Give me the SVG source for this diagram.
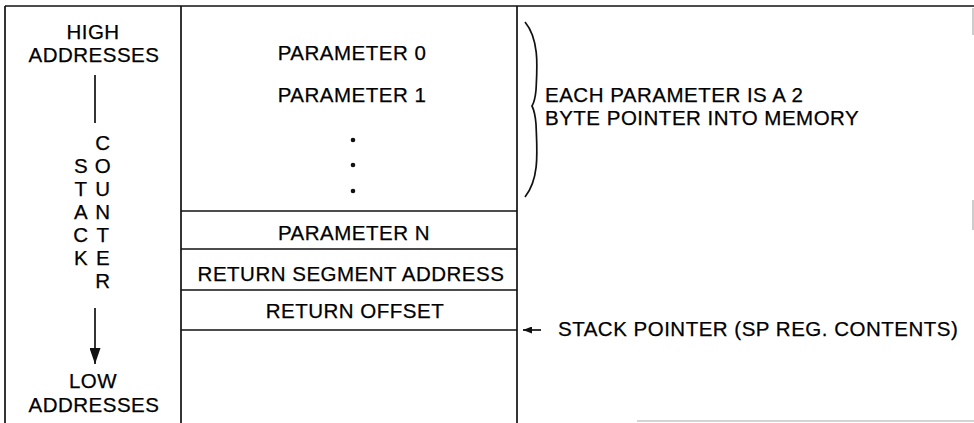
<svg xmlns="http://www.w3.org/2000/svg" width="974" height="423" viewBox="0 0 974 423">
<style>
text{font-family:"Liberation Sans",Arial,sans-serif;font-size:20.5px;letter-spacing:0.5px;fill:#000;stroke:#000;stroke-width:0.25}
.c{text-anchor:middle}
.ln{stroke:#111;stroke-width:1.7;fill:none}
.faint{stroke:#aaa;stroke-width:1.2;fill:none}
</style>
<defs>
<marker id="ah" viewBox="0 0 9 7" refX="9" refY="3.5" markerWidth="9" markerHeight="7" markerUnits="userSpaceOnUse" orient="auto"><path d="M0,0 L9,3.5 L0,7 z" fill="#111"/></marker>
<marker id="ahBig" viewBox="0 0 16 11" refX="16" refY="5.5" markerWidth="16" markerHeight="11" markerUnits="userSpaceOnUse" orient="auto"><path d="M0,0 L16,5.5 L0,11 z" fill="#111"/></marker>
</defs>
<g id="frame">
<line class="ln" x1="5" y1="6" x2="974" y2="6"/>
<line class="ln" x1="5" y1="6" x2="5" y2="423"/>
<line class="ln" x1="181" y1="6" x2="181" y2="423"/>
<line class="ln" x1="517" y1="6" x2="517" y2="423"/>
<line class="faint" x1="973" y1="8" x2="973" y2="35"/>
<line class="faint" x1="973" y1="200" x2="973" y2="230"/>
<line class="faint" x1="637" y1="421" x2="974" y2="421"/>
</g>
<g id="high-addresses">
<text class="c" x="93" y="39">HIGH</text>
<text class="c" x="94" y="62">ADDRESSES</text>
</g>
<g id="stack-counter">
<text class="c" x="103" y="150">C</text>
<text class="c" x="81" y="173">S</text><text class="c" x="103" y="173">O</text>
<text class="c" x="81" y="196">T</text><text class="c" x="103" y="196">U</text>
<text class="c" x="81" y="219">A</text><text class="c" x="103" y="219">N</text>
<text class="c" x="81" y="242">C</text><text class="c" x="103" y="242">T</text>
<text class="c" x="81" y="265">K</text><text class="c" x="103" y="265">E</text>
<text class="c" x="103" y="288">R</text>
</g>
<g id="low-addresses">
<text class="c" x="93" y="388">LOW</text>
<text class="c" x="94" y="412">ADDRESSES</text>
</g>
<g id="params-block">
<text class="c" x="352" y="60">PARAMETER 0</text>
<text class="c" x="352" y="102">PARAMETER 1</text>
<circle cx="353" cy="140" r="2.3" fill="#111"/>
<circle cx="353" cy="165" r="2.3" fill="#111"/>
<circle cx="353" cy="191" r="2.3" fill="#111"/>
</g>
<g id="cell-parameter-n">
<line class="ln" x1="181" y1="211" x2="517" y2="211"/>
<text class="c" x="354" y="240">PARAMETER N</text>
</g>
<g id="cell-return-segment">
<line class="ln" x1="181" y1="249" x2="517" y2="249"/>
<text class="c" x="351" y="281">RETURN SEGMENT ADDRESS</text>
</g>
<g id="cell-return-offset">
<line class="ln" x1="181" y1="290" x2="517" y2="290"/>
<text class="c" x="355" y="318">RETURN OFFSET</text>
<line class="ln" x1="181" y1="330" x2="517" y2="330"/>
</g>
<g id="param-note">
<text x="545" y="102">EACH PARAMETER IS A 2</text>
<text x="545" y="125">BYTE POINTER INTO MEMORY</text>
</g>
<g id="sp-note">
<text x="558" y="336">STACK POINTER (SP REG. CONTENTS)</text>
</g>
<g id="connectors">
<line class="ln" x1="95" y1="75" x2="95" y2="123"/>
<line class="ln" x1="95" y1="308" x2="95" y2="364" marker-end="url(#ahBig)"/>
<path class="ln" d="M525,22 C540,40 537,70 536,90 Q535,101 532,106 Q535,112 536,124 C537,150 540,178 525,197"/>
<line class="ln" x1="541" y1="330" x2="523" y2="330" marker-end="url(#ah)"/>
</g>
</svg>
